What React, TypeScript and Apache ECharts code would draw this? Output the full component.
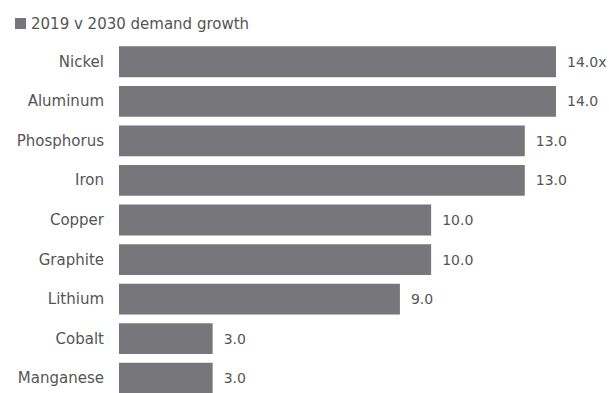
import React, { useEffect, useRef } from "react";
import * as echarts from "echarts";

const categories = ["Nickel", "Aluminum", "Phosphorus", "Iron", "Copper", "Graphite", "Lithium", "Cobalt", "Manganese"];
const growth = [14, 14, 13, 13, 10, 10, 9, 3, 3];
const seriesName = "2019 v 2030 demand growth";

export default function App() {
  const ref = useRef<HTMLDivElement>(null);
  useEffect(() => {
    if (!ref.current) return;
    const chart = echarts.init(ref.current, null, { renderer: "svg" });
    const font = "'DejaVu Sans', sans-serif";
    const color = "#555";
    chart.setOption({
      animation: false,
      textStyle: { fontFamily: font },
      legend: {
        left: 10,
        top: 11,
        itemWidth: 11,
        itemHeight: 11,
        itemGap: 10,
        icon: "rect",
        textStyle: { fontSize: 15, color, fontFamily: font },
        data: [seriesName],
      },
      grid: { left: 119, right: 53, top: 42, bottom: 2, containLabel: false },
      xAxis: {
        type: "value",
        min: 0,
        max: 14,
        show: false,
      },
      yAxis: {
        type: "category",
        inverse: true,
        data: categories,
        axisLine: { show: false },
        axisTick: { show: false },
        axisLabel: { margin: 15, fontSize: 15, color, fontFamily: font },
      },
      series: [
        {
          name: seriesName,
          type: "bar",
          data: growth,
          barCategoryGap: "22%",
          itemStyle: { color: "#77777b" },
          label: {
            show: true,
            position: "right",
            distance: 11,
            fontSize: 14,
            color,
            fontFamily: font,
            formatter: (p: any) => p.value.toFixed(1) + (p.dataIndex === 0 ? "x" : ""),
          },
        },
      ],
    });
    return () => chart.dispose();
  }, []);
  return (
    <div style={{ position: "fixed", left: 0, top: 0, width: 609, height: 393, overflow: "hidden", background: "#fff" }}>
      <div ref={ref} style={{ width: 609, height: 400 }} />
    </div>
  );
}
